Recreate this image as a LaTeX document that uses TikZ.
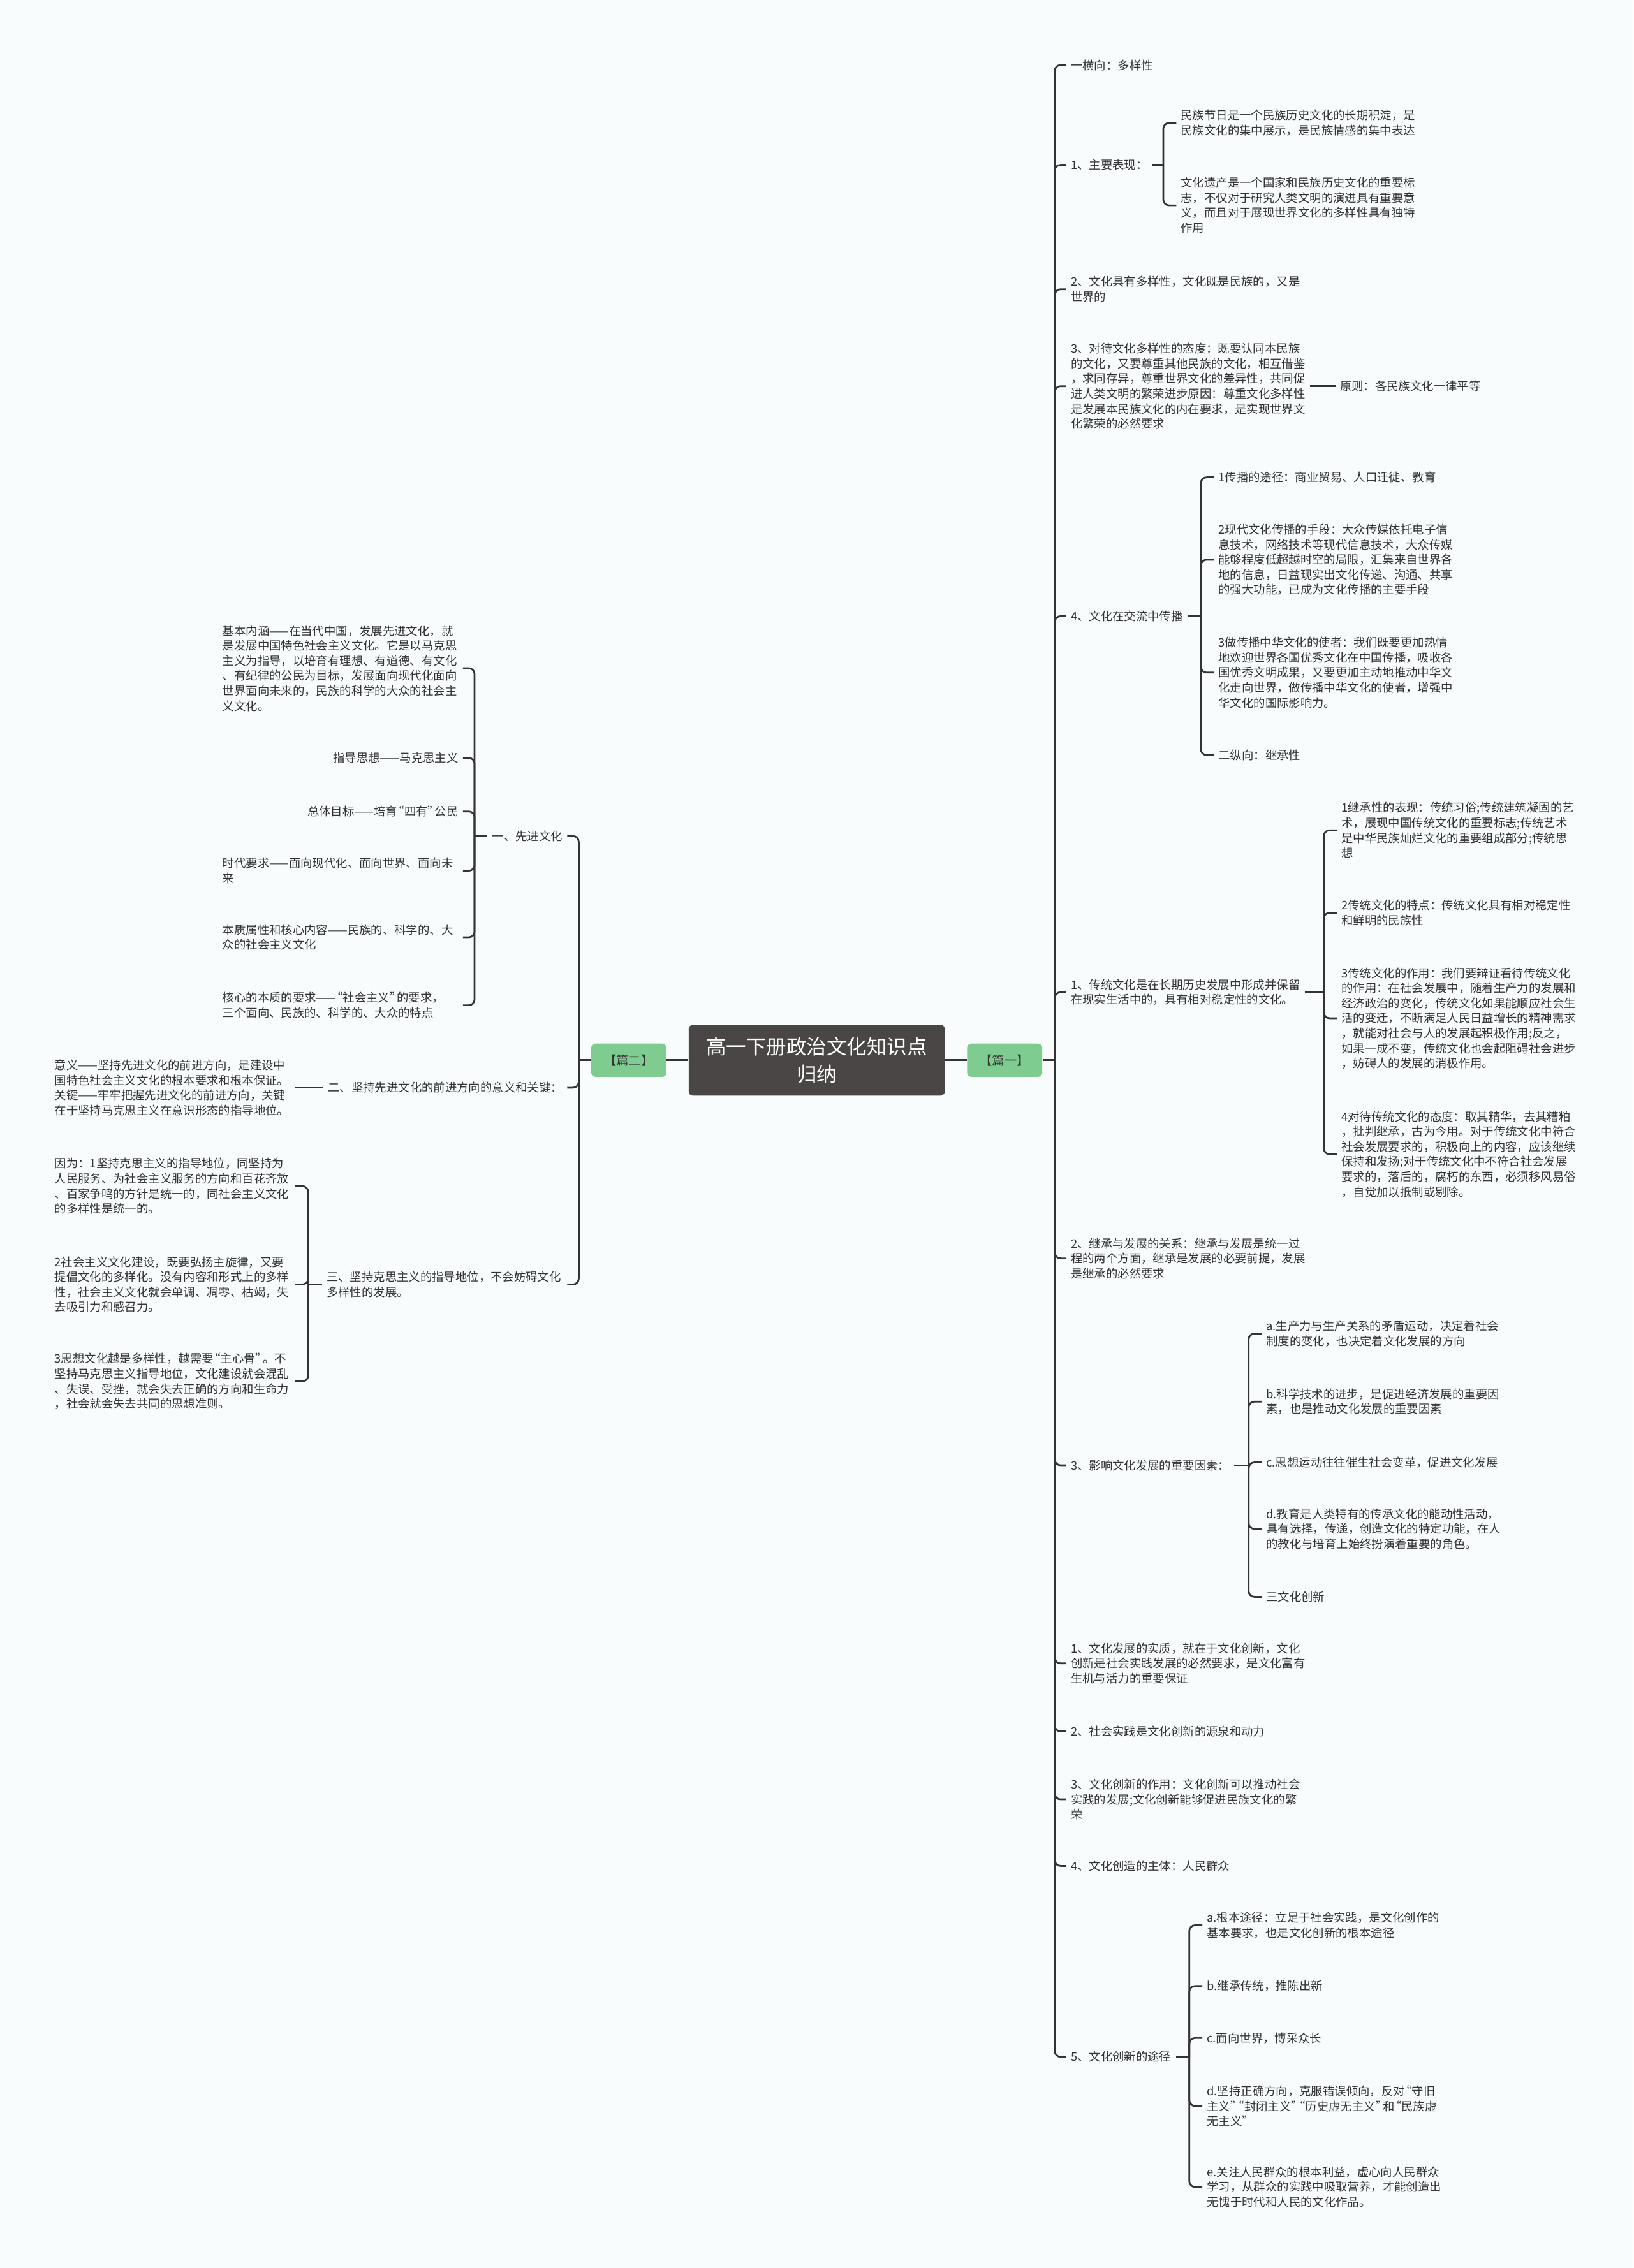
\documentclass[tikz,border=0pt]{standalone}
\usepackage{fontspec}
\setmainfont{Noto Sans CJK SC}
% quotes a little narrower than the full-width CJK ones
\newcommand\qopen{\makebox[0.6em][r]{“}}
\newcommand\qclose{\makebox[0.6em][l]{”}}
\usetikzlibrary{positioning}
\definecolor{ink}{HTML}{333333}
\definecolor{rootfill}{HTML}{4B4646}
\definecolor{tagfill}{HTML}{7ECC90}
\definecolor{paper}{HTML}{F8FCFD}

\begin{document}
\begin{tikzpicture}[
  x=1pt, y=-1pt,
  link/.style={draw=ink, line width=1.2pt, rounded corners=4pt},
  leaf/.style={font=\fontsize{8.1}{10.4}\selectfont, text=ink, align=left, inner xsep=3pt, inner ysep=1pt, anchor=west},
  lleaf/.style={leaf, anchor=east},
  wide/.style={text width=163pt},
  root/.style={fill=rootfill, rounded corners=3pt, minimum width=177pt, minimum height=49pt, text=white, align=center, font=\fontsize{13.9}{19}\selectfont},
  tag/.style={fill=tagfill, rounded corners=3pt, minimum width=52pt, minimum height=23pt, inner sep=0pt, text=ink, font=\fontsize{8.5}{10}\selectfont}
]
\fill[paper] (0,0) rectangle (1129,1568);
\useasboundingbox (0,0) rectangle (1129,1568);

% centre and the two chapter tags
\node[root] (root) at (564.5,733) {高一下册政治文化知识点\\归纳};
\node[tag, right=15pt of root] (p1) {【篇一】};
\node[tag, left=15pt of root] (p2) {【篇二】};
\draw[link] (root) -- (p1);
\draw[link] (root) -- (p2);

% ---- right side: 篇一 ----
\coordinate (jr) at (729,733);
\node[leaf] (R0)  at (737,45)   {一横向：多样性};
\node[leaf] (R1)  at (737,114)  {1、主要表现：};
\node[leaf] (R2)  at (737,200)  {2、文化具有多样性，文化既是民族的，又是\\世界的};
\node[leaf] (R3)  at (737,267)  {3、对待文化多样性的态度：既要认同本民族\\的文化，又要尊重其他民族的文化，相互借鉴\\，求同存异，尊重世界文化的差异性，共同促\\进人类文明的繁荣进步原因：尊重文化多样性\\是发展本民族文化的内在要求，是实现世界文\\化繁荣的必然要求};
\node[leaf] (R4)  at (737,426)  {4、文化在交流中传播};
\node[leaf] (R5)  at (737,686)  {1、传统文化是在长期历史发展中形成并保留\\在现实生活中的，具有相对稳定性的文化。};
\node[leaf] (R6)  at (737,870)  {2、继承与发展的关系：继承与发展是统一过\\程的两个方面，继承是发展的必要前提，发展\\是继承的必然要求};
\node[leaf] (R7)  at (737,1013) {3、影响文化发展的重要因素：};
\node[leaf] (R8)  at (737,1150) {1、文化发展的实质，就在于文化创新，文化\\创新是社会实践发展的必然要求，是文化富有\\生机与活力的重要保证};
\node[leaf] (R9)  at (737,1197) {2、社会实践是文化创新的源泉和动力};
\node[leaf] (R10) at (737,1244) {3、文化创新的作用：文化创新可以推动社会\\实践的发展;文化创新能够促进民族文化的繁\\荣};
\node[leaf] (R11) at (737,1290) {4、文化创造的主体：人民群众};
\node[leaf] (R12) at (737,1422) {5、文化创新的途径};
\draw[link] (p1.east) -- (jr);
\foreach \c in {R0,R1,R2,R3,R4,R5,R6,R7,R8,R9,R10,R11,R12}
  \draw[link] (jr) |- (\c.west);

% 主要表现
\coordinate (j1) at (804,114);
\node[leaf] (R1a) at (813,85)  {民族节日是一个民族历史文化的长期积淀，是\\民族文化的集中展示，是民族情感的集中表达};
\node[leaf] (R1b) at (813,142) {文化遗产是一个国家和民族历史文化的重要标\\志，不仅对于研究人类文明的演进具有重要意\\义，而且对于展现世界文化的多样性具有独特\\作用};
\draw[link] (R1.east) -- (j1);
\foreach \c in {R1a,R1b}
  \draw[link] (j1) |- (\c.west);

% 原则
\node[leaf] (R3a) at (923,267) {原则：各民族文化一律平等};
\draw[link] (R3.east) -- (R3a.west);

% 交流中传播
\coordinate (j4) at (830,426);
\node[leaf] (R4a) at (839,330) {1传播的途径：商业贸易、人口迁徙、教育};
\node[leaf] (R4b) at (839,387) {2现代文化传播的手段：大众传媒依托电子信\\息技术，网络技术等现代信息技术，大众传媒\\能够程度低超越时空的局限，汇集来自世界各\\地的信息，日益现实出文化传递、沟通、共享\\的强大功能，已成为文化传播的主要手段};
\node[leaf] (R4c) at (839,465) {3做传播中华文化的使者：我们既要更加热情\\地欢迎世界各国优秀文化在中国传播，吸收各\\国优秀文明成果，又要更加主动地推动中华文\\化走向世界，做传播中华文化的使者，增强中\\华文化的国际影响力。};
\node[leaf] (R4d) at (839,522) {二纵向：继承性};
\draw[link] (R4.east) -- (j4);
\foreach \c in {R4a,R4b,R4c,R4d}
  \draw[link] (j4) |- (\c.west);

% 传统文化
\coordinate (j5) at (915,686);
\node[leaf] (R5a) at (924,574) {1继承性的表现：传统习俗;传统建筑凝固的艺\\术，展现中国传统文化的重要标志;传统艺术\\是中华民族灿烂文化的重要组成部分;传统思\\想};
\node[leaf] (R5b) at (924,631) {2传统文化的特点：传统文化具有相对稳定性\\和鲜明的民族性};
\node[leaf] (R5c) at (924,704) {3传统文化的作用：我们要辩证看待传统文化\\的作用：在社会发展中，随着生产力的发展和\\经济政治的变化，传统文化如果能顺应社会生\\活的变迁，不断满足人民日益增长的精神需求\\，就能对社会与人的发展起积极作用;反之，\\如果一成不变，传统文化也会起阻碍社会进步\\，妨碍人的发展的消极作用。};
\node[leaf] (R5d) at (924,798) {4对待传统文化的态度：取其精华，去其糟粕\\，批判继承，古为今用。对于传统文化中符合\\社会发展要求的，积极向上的内容，应该继续\\保持和发扬;对于传统文化中不符合社会发展\\要求的，落后的，腐朽的东西，必须移风易俗\\，自觉加以抵制或剔除。};
\draw[link] (R5.east) -- (j5);
\foreach \c in {R5a,R5b,R5c,R5d}
  \draw[link] (j5) |- (\c.west);

% 重要因素
\coordinate (j7) at (863,1013);
\node[leaf] (R7a) at (872,922)  {a.生产力与生产关系的矛盾运动，决定着社会\\制度的变化，也决定着文化发展的方向};
\node[leaf] (R7b) at (872,969)  {b.科学技术的进步，是促进经济发展的重要因\\素，也是推动文化发展的重要因素};
\node[leaf] (R7c) at (872,1011) {c.思想运动往往催生社会变革，促进文化发展};
\node[leaf] (R7d) at (872,1057) {d.教育是人类特有的传承文化的能动性活动，\\具有选择，传递，创造文化的特定功能，在人\\的教化与培育上始终扮演着重要的角色。};
\node[leaf] (R7e) at (872,1104) {三文化创新};
\draw[link] (R7.east) -- (j7);
\foreach \c in {R7a,R7b,R7c,R7d,R7e}
  \draw[link] (j7) |- (\c.west);

% 创新途径
\coordinate (j12) at (822,1422);
\node[leaf] (R12a) at (831,1331) {a.根本途径：立足于社会实践，是文化创作的\\基本要求，也是文化创新的根本途径};
\node[leaf] (R12b) at (831,1373) {b.继承传统，推陈出新};
\node[leaf] (R12c) at (831,1409) {c.面向世界，博采众长};
\node[leaf] (R12d) at (831,1456) {d.坚持正确方向，克服错误倾向，反对\qopen 守旧\\主义\qclose\qopen 封闭主义\qclose\qopen 历史虚无主义\qclose 和\qopen 民族虚\\无主义\qclose};
\node[leaf] (R12e) at (831,1512) {e.关注人民群众的根本利益，虚心向人民群众\\学习，从群众的实践中吸取营养，才能创造出\\无愧于时代和人民的文化作品。};
\draw[link] (R12.east) -- (j12);
\foreach \c in {R12a,R12b,R12c,R12d,R12e}
  \draw[link] (j12) |- (\c.west);

% ---- left side: 篇二 ----
\coordinate (jl) at (400,733);
\node[lleaf] (L1) at (392,578) {一、先进文化};
\node[lleaf] (L2) at (392,752) {二、坚持先进文化的前进方向的意义和关键：};
\node[lleaf, wide] (L3) at (392,888) {三、坚持克思主义的指导地位，不会妨碍文化\\多样性的发展。};
\draw[link] (p2.west) -- (jl);
\foreach \c in {L1,L2,L3}
  \draw[link] (jl) |- (\c.east);

% 先进文化
\coordinate (jl1) at (328,578);
\node[lleaf, wide] (L1a) at (320,462) {基本内涵——在当代中国，发展先进文化，就\\是发展中国特色社会主义文化。它是以马克思\\主义为指导，以培育有理想、有道德、有文化\\、有纪律的公民为目标，发展面向现代化面向\\世界面向未来的，民族的科学的大众的社会主\\义文化。};
\node[lleaf] (L1b) at (320,524) {指导思想——马克思主义};
\node[lleaf] (L1c) at (320,561) {总体目标——培育\qopen 四有\qclose 公民};
\node[lleaf, wide] (L1d) at (320,602) {时代要求——面向现代化、面向世界、面向未\\来};
\node[lleaf, wide] (L1e) at (320,648) {本质属性和核心内容——民族的、科学的、大\\众的社会主义文化};
\node[lleaf, wide] (L1f) at (320,695) {核心的本质的要求——\qopen 社会主义\qclose 的要求，\\三个面向、民族的、科学的、大众的特点};
\draw[link] (L1.west) -- (jl1);
\foreach \c in {L1a,L1b,L1c,L1d,L1e,L1f}
  \draw[link] (jl1) |- (\c.east);

% 意义和关键
\node[lleaf, wide] (L2a) at (204,752) {意义——坚持先进文化的前进方向，是建设中\\国特色社会主义文化的根本要求和根本保证。\\关键——牢牢把握先进文化的前进方向，关键\\在于坚持马克思主义在意识形态的指导地位。};
\draw[link] (L2.west) -- (L2a.east);

% 指导地位
\coordinate (jl3) at (213,888);
\node[lleaf, wide] (L3a) at (204,820) {因为：1坚持克思主义的指导地位，同坚持为\\人民服务、为社会主义服务的方向和百花齐放\\、百家争鸣的方针是统一的，同社会主义文化\\的多样性是统一的。};
\node[lleaf, wide] (L3b) at (204,888) {2社会主义文化建设，既要弘扬主旋律，又要\\提倡文化的多样化。没有内容和形式上的多样\\性，社会主义文化就会单调、凋零、枯竭，失\\去吸引力和感召力。};
\node[lleaf, wide] (L3c) at (204,955) {3思想文化越是多样性，越需要\qopen 主心骨\qclose 。不\\坚持马克思主义指导地位，文化建设就会混乱\\、失误、受挫，就会失去正确的方向和生命力\\，社会就会失去共同的思想准则。};
\draw[link] (L3.west) -- (jl3);
\foreach \c in {L3a,L3b,L3c}
  \draw[link] (jl3) |- (\c.east);
\end{tikzpicture}
\end{document}
